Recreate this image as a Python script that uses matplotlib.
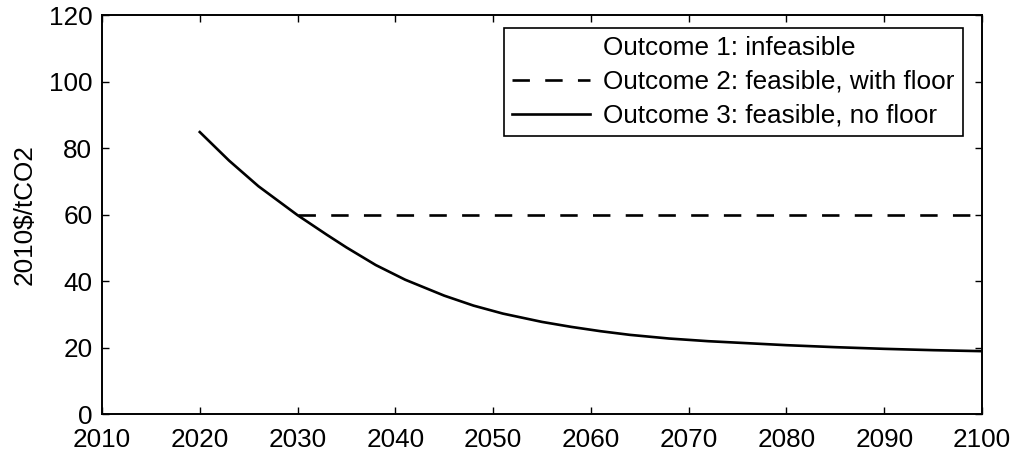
import matplotlib
matplotlib.use("Agg")
import matplotlib.pyplot as plt
import numpy as np

plt.rcParams['font.family'] = ['Liberation Sans', 'DejaVu Sans']

# carbon price path, 2010$/tCO2
years = [2020, 2023, 2026, 2030, 2033, 2035, 2038, 2041, 2045, 2048,
         2051, 2055, 2058, 2061, 2064, 2068, 2072, 2076, 2080, 2085,
         2090, 2095, 2100]
price_no_floor = [84.8, 76.2, 68.5, 59.8, 53.9, 50.1, 44.8, 40.4, 35.6, 32.6,
                  30.2, 27.7, 26.2, 24.9, 23.8, 22.7, 21.9, 21.3, 20.7, 20.1,
                  19.6, 19.2, 18.9]

floor_years = [2030, 2100]
floor_price = [60, 60]

labels = ['Outcome 1: infeasible',
          'Outcome 2: feasible, with floor',
          'Outcome 3: feasible, no floor']

xticks = np.arange(2010, 2101, 10)
yticks = np.arange(0, 121, 20)

fs = 18.8

fig = plt.figure(figsize=(10.18, 4.55), dpi=100)
ax = fig.add_axes([0.1002, 0.0901, 0.8644, 0.8769])

lw = 1.9
h1, = ax.plot([], [], color='white', lw=lw)
h2, = ax.plot(floor_years, floor_price, color='black', lw=lw,
              linestyle=(0, (6.6, 5.8)))
h3, = ax.plot(years, price_no_floor, color='black', lw=lw)

ax.set_xlim(2010, 2100)
ax.set_ylim(0, 120)
ax.set_xticks(xticks)
ax.set_yticks(yticks)
ax.tick_params(direction='in', length=5, width=1.0, labelsize=fs,
               top=True, right=True)
ax.tick_params(axis='x', pad=10)
ax.tick_params(axis='y', pad=7)
for s in ax.spines.values():
    s.set_linewidth(1.4)

ax.set_ylabel('2010$/tCO2', fontsize=fs, labelpad=9)

leg = ax.legend([h1, h2, h3], labels, loc='upper right',
                bbox_to_anchor=(0.978, 0.967), borderaxespad=0,
                fontsize=fs, fancybox=False, edgecolor='black', framealpha=1,
                handlelength=3.0, handletextpad=0.5, labelspacing=0.38,
                borderpad=0.3)
leg.get_frame().set_linewidth(1.2)

fig.savefig('out.png', dpi=100)
